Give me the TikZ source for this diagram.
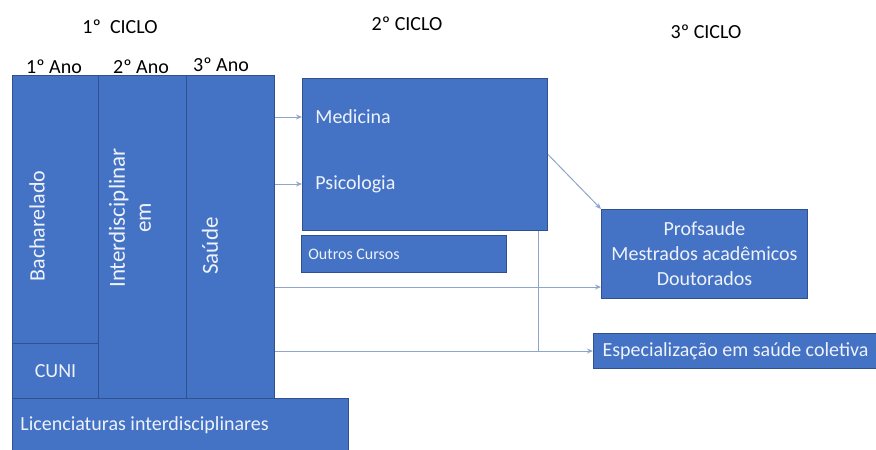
\documentclass[tikz,border=0pt]{standalone}
\usepackage{fontspec}
\setmainfont{Carlito}
\usetikzlibrary{arrows.meta,positioning}
\definecolor{azul}{HTML}{4472C4}
\definecolor{borda}{HTML}{2F528F}
\definecolor{linha}{HTML}{8EA5CC}
\definecolor{texto}{HTML}{EEF2FA}
\tikzset{
  bloco/.style={draw=borda, fill=azul, line width=0.5pt, anchor=north west, inner sep=0pt},
  rotulo/.style={text=texto, font=\fontsize{10}{12.5}\selectfont, inner sep=0pt},
  vertical/.style={rotulo, rotate=90, font=\fontsize{11.5}{13}\selectfont},
  titulo/.style={font=\fontsize{10}{12}\selectfont, inner sep=0pt},
  seta/.style={draw=linha, line width=0.5pt, -{Stealth[length=3pt,width=2.5pt]}},
}
\begin{document}
\begin{tikzpicture}[x=0.5pt,y=-0.5pt]
  \useasboundingbox (0,0) rectangle (876,449);

  % títulos
  \node[titulo] (ciclo1) at (120,27) {1º~~CICLO};
  \node[titulo] (ciclo2) at (407,24) {2º CICLO};
  \node[titulo] (ciclo3) at (706,32) {3º CICLO};
  \node[titulo] (ano1) at (54,67) {1º Ano};
  \node[titulo] (ano2) at (141,67) {2º Ano};
  \node[titulo] (ano3) at (221,65) {3º Ano};

  % 1º ciclo
  \node[bloco, minimum width=43pt, minimum height=134pt] (bach) at (12,75) {};
  \node[bloco, minimum width=43pt, minimum height=27.5pt, rotulo] (cuni) at (12,343) {CUNI};
  \node[bloco, minimum width=44pt, minimum height=161.5pt] (inter) at (98,75) {};
  \node[bloco, minimum width=44pt, minimum height=161.5pt] (sau) at (186,75) {};
  \node[bloco, minimum width=168pt, minimum height=26pt] (lic) at (12,398) {};
  \node[vertical, font=\fontsize{11}{13}\selectfont] (bachtxt) at (37,226) {Bacharelado};
  \node[vertical, align=center] (intertxt) at (130,218) {Interdisciplinar\\em};
  \node[vertical] (sautxt) at (210,246) {Saúde};
  \node[rotulo, anchor=west] (lictxt) at (20,425) {Licenciaturas interdisciplinares};

  % 2º ciclo
  \node[bloco, minimum width=122.5pt, minimum height=76pt] (med) at (302,78) {};
  \node[rotulo, anchor=west] (medtxt) at (315,117) {Medicina};
  \node[rotulo, anchor=west] (psitxt) at (315,184) {Psicologia};
  \node[bloco, minimum width=102.5pt, minimum height=18.5pt] (outros) at (301,235) {};
  \node[rotulo, anchor=west, font=\fontsize{8}{10}\selectfont] (outrostxt) at (308,254) {Outros Cursos};

  % 3º ciclo
  \node[bloco, minimum width=103pt, minimum height=44.5pt, rotulo, align=center] (prof) at (601,209)
    {Profsaude\\Mestrados acadêmicos\\Doutorados};
  \node[bloco, minimum width=142pt, minimum height=17.5pt, rotulo] (esp) at (593,333)
    {Especialização em saúde coletiva};

  % ligações
  \coordinate (altprof) at (0,287);
  \coordinate (desce) at (538,0);
  \draw[seta] (sau.east |- medtxt) -- (med.west |- medtxt);
  \draw[seta] (sau.east |- psitxt) -- (med.west |- psitxt);
  \draw[seta] (sau.east |- altprof) -- (prof.west |- altprof);
  \draw[seta] (sau.east |- esp.west) -- (esp.west);
  \draw[linha, line width=0.5pt] (med.south -| desce) -- (desce |- esp.west);
  \draw[seta] (med.east) -- (prof.north west);
\end{tikzpicture}
\end{document}
